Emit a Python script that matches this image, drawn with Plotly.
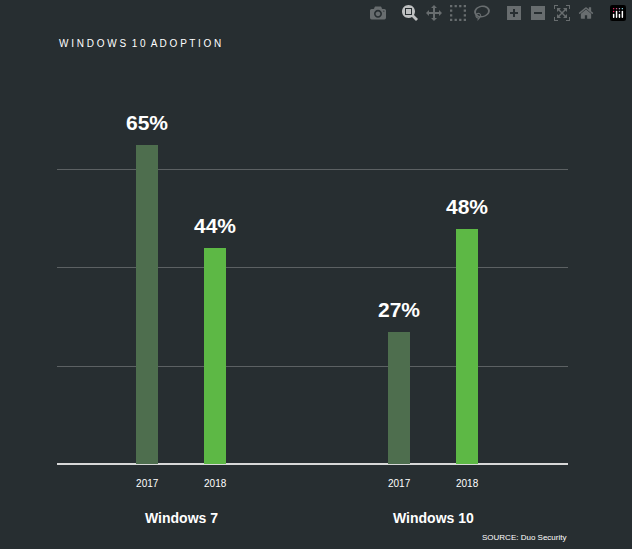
import plotly.graph_objects as go

groups = ["Windows 7", "Windows 10"]
years = ["2017", "2018"]
values_2017 = [65, 27]
values_2018 = [44, 48]
colors = {"2017": "#4e6e4e", "2018": "#5db845"}

group_centers = [2.43, 7.36]
offset = 0.665
width = 0.43

H_PLOT = 549 - 71 - 85
def py(pix):
    return (549 - 85 - pix) / H_PLOT

fig = go.Figure()
for yr, vals, sgn in [("2017", values_2017, -1), ("2018", values_2018, 1)]:
    xs = [c + sgn * offset for c in group_centers]
    fig.add_bar(x=xs, y=vals, width=width, marker_color=colors[yr], marker_line_width=0,
                showlegend=False, hoverinfo="skip")
    for x, v in zip(xs, vals):
        fig.add_annotation(x=x, y=v, text=f"<b>{v}%</b>", showarrow=False, yanchor="bottom",
                           yshift=9, font=dict(family="Liberation Sans", size=21, color="white"))

tickvals, ticktext = [], []
for c in group_centers:
    for yr, sgn in zip(years, [-1, 1]):
        tickvals.append(c + sgn * offset)
        ticktext.append(yr)

fig.update_layout(
    width=632, height=549, paper_bgcolor="#272e31", plot_bgcolor="#272e31",
    margin=dict(l=57, r=64, t=71, b=85),
    xaxis=dict(range=[0, 10], tickvals=tickvals, ticktext=ticktext, showgrid=False,
               zeroline=False, showline=False, ticks="", ticklabelstandoff=12,
               tickfont=dict(family="Liberation Sans", size=10, color="white")),
    yaxis=dict(range=[0, 80.2], dtick=20, showticklabels=False, gridcolor="#5c6163",
               gridwidth=1, zeroline=True, zerolinecolor="#d8d8d8", zerolinewidth=1.5),
    bargap=0,
)
for g, c in zip(groups, group_centers):
    fig.add_annotation(x=c, xref="x", y=py(518), yref="paper", yanchor="middle", text=f"<b>{g}</b>",
                       showarrow=False, font=dict(family="Liberation Sans", size=14, color="white"))
fig.add_annotation(x=0, xref="paper", xanchor="left", y=py(43), yref="paper",
                   yanchor="middle", text="W I N D O W S  1 0  A D O P T I O N", showarrow=False,
                   font=dict(family="Liberation Sans", size=10, color="white"))
fig.add_annotation(x=1, xref="paper", xanchor="right", y=py(537), yref="paper",
                   yanchor="middle", text="SOURCE: Duo Security", showarrow=False,
                   font=dict(family="Liberation Sans", size=8, color="white"))
fig.write_html("out.html", post_script="document.body.style.margin='0';document.body.style.background='#272e31';")
